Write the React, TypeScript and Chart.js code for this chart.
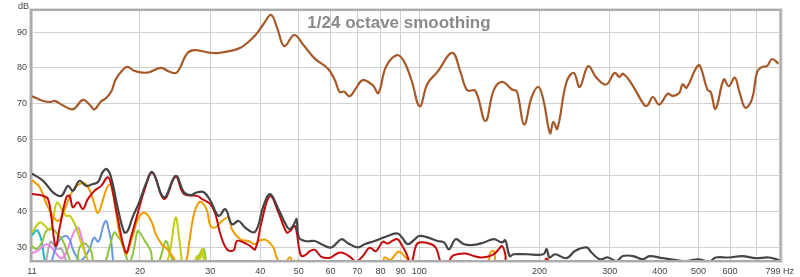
import React, { useEffect, useRef } from "react";
import { Chart, registerables } from "chart.js";

Chart.register(...registerables);

// ---- axis definition ----
const X_MIN = 10.74;
const X_MAX = 799;
const Y_MIN = 26.4;
const Y_MAX = 95.9;
const X_GRID = [20, 30, 40, 50, 60, 70, 80, 90, 100, 200, 300, 400, 500, 600, 700];
const X_LABELS: Record<string, string> = {
  "20": "20", "30": "30", "40": "40", "50": "50", "60": "60", "70": "70", "80": "80",
  "90": "90", "100": "100", "200": "200", "300": "300", "400": "400", "500": "500", "600": "600",
};
const FIRST_LABEL = "11";
const LAST_LABEL = "799 Hz";
const Y_TICKS = [30, 40, 50, 60, 70, 80, 90];
const Y_UNIT = "dB";
const TITLE = "1/24 octave smoothing";

// ---- series: [frequency Hz, level dB] ----
const brown: [number, number][] = [
  [10.74, 72.1], [11.45, 70.8], [11.9, 70.5], [12.24, 70.8], [12.81, 69.6], [13.61, 68.5],
  [14.4, 71.1], [14.96, 69.8], [15.39, 68.4], [15.93, 70.5], [16.47, 71.6], [16.97, 73.5],
  [17.36, 76.6], [17.97, 79.0], [18.59, 80.3], [19.36, 79.2], [20.26, 78.7], [21.09, 78.8],
  [22.59, 80.0], [23.66, 79.0], [24.62, 78.6], [25.19, 80.0], [26.23, 84.0], [27.3, 85.0],
  [29.75, 84.3], [31.51, 84.2], [35.32, 85.4], [37.41, 87.3], [38.94, 89.2], [40.76, 92.2],
  [42.6, 94.8], [44.17, 91.0], [45.96, 86.1], [48.68, 89.2], [51.27, 86.5], [54.81, 82.6],
  [59.15, 79.8], [61.58, 76.5], [63.24, 73.3], [64.84, 73.4], [66.97, 72.1], [69.45, 74.3],
  [72.28, 76.6], [76.54, 75.2], [79.07, 73.0], [82.59, 80.3], [87.99, 83.6], [91.78, 81.7],
  [95.73, 76.5], [100.35, 69.3], [104.9, 75.6], [111.1, 78.9], [121.0, 84.2], [126.8, 79.0],
  [131.9, 73.8], [138.3, 73.6], [146.5, 65.2], [153.7, 73.8], [161.2, 76.1], [170.7, 74.0],
  [175.6, 73.5], [183.1, 64.2], [191.3, 71.9], [198.9, 74.7], [204.7, 71.0], [212.6, 61.8],
  [216.7, 64.9], [221.7, 63.0], [233.8, 76.1], [243.8, 78.6], [252.3, 74.7], [264.8, 80.5],
  [277.7, 77.3], [294.0, 75.4], [308.4, 78.6], [317.3, 77.5], [323.6, 78.4], [339.3, 75.8],
  [366.3, 69.6], [373.4, 69.6], [384.3, 71.9], [399.1, 69.8], [418.8, 72.8], [430.9, 72.2],
  [447.6, 73.0], [456.4, 75.4], [467.0, 74.5], [492.5, 79.8], [503.9, 80.7], [526.7, 73.9],
  [536.7, 73.3], [552.1, 68.6], [579.0, 76.8], [595.8, 74.9], [616.7, 77.3], [633.4, 73.3],
  [655.7, 68.9], [681.3, 71.4], [701.2, 78.9], [721.5, 80.3], [742.5, 80.5], [764.0, 82.5],
  [793.3, 81.2],
];

const darkGrey: [number, number][] = [
  [10.74, 50.5], [11.45, 48.5], [12.12, 45.3], [12.72, 44.3], [13.21, 47.1], [13.59, 45.7],
  [14.13, 48.5], [14.68, 47.1], [15.24, 47.6], [15.69, 48.1], [16.14, 50.9], [16.52, 51.8],
  [16.94, 49.5], [17.59, 41.1], [18.28, 34.1], [18.63, 34.5], [19.17, 38.3], [19.92, 42.5],
  [20.7, 47.6], [21.5, 50.9], [22.99, 43.9], [24.58, 49.9], [25.78, 45.3], [26.79, 44.5],
  [27.82, 45.3], [28.91, 45.3], [30.04, 42.9], [31.5, 38.7], [32.73, 40.6], [33.99, 36.4],
  [35.33, 37.3], [36.71, 35.4], [38.87, 34.3], [40.77, 41.5], [42.36, 44.8], [44.42, 40.6],
  [46.59, 35.9], [47.5, 35.0], [48.88, 36.9], [49.33, 37.8], [50.02, 32.7], [51.77, 31.7],
  [54.82, 31.7], [56.93, 30.8], [60.29, 29.9], [63.84, 32.2], [66.34, 31.1], [70.25, 29.9],
  [73.0, 30.8], [77.31, 31.7], [80.29, 32.4], [83.4, 33.1], [88.3, 33.8], [90.9, 32.5],
  [93.55, 30.8], [97.2, 32.0], [100.0, 33.1], [104.9, 32.7], [111.1, 31.7], [115.4, 31.3],
  [118.8, 29.4], [123.4, 32.2], [129.5, 30.8], [137.1, 30.6], [145.2, 31.3], [153.7, 32.2],
  [161.2, 31.3], [164.3, 31.9], [168.5, 27.5], [172.4, 28.0], [186.1, 28.0], [204.7, 28.0],
  [208.6, 29.4], [211.9, 27.1], [218.8, 28.0], [233.8, 26.9], [245.4, 28.9], [262.4, 29.9],
  [270.0, 28.5], [283.1, 26.6], [297.1, 27.1], [311.6, 26.1], [323.6, 27.5], [342.8, 27.5],
  [363.1, 26.6], [377.1, 27.5], [407.1, 26.9], [439.4, 26.4], [465.2, 26.1], [502.2, 26.6],
  [531.8, 25.9], [552.6, 27.1], [596.4, 27.1], [643.8, 27.5], [694.9, 26.9], [750.0, 27.1],
  [799.0, 26.3],
];

const red: [number, number][] = [
  [10.74, 44.8], [11.45, 44.3], [11.78, 43.4], [12.01, 38.3], [12.31, 30.3], [12.6, 35.5],
  [13.09, 43.9], [13.34, 44.3], [13.59, 41.1], [13.99, 42.5], [14.4, 40.6], [14.81, 43.4],
  [15.39, 45.7], [16.0, 47.1], [16.61, 49.5], [16.94, 47.6], [17.59, 38.3], [18.46, 28.5],
  [18.99, 32.7], [19.73, 39.2], [20.5, 45.7], [21.5, 50.7], [22.99, 43.4], [24.58, 49.6],
  [25.78, 44.8], [27.82, 44.3], [28.63, 43.4], [30.04, 42.0], [30.91, 39.2], [31.81, 33.6],
  [33.04, 29.4], [34.33, 29.1], [34.98, 31.7], [36.35, 31.3], [37.78, 30.3], [38.87, 29.4],
  [40.37, 37.3], [42.36, 44.3], [44.42, 39.7], [46.59, 34.1], [47.5, 34.5], [48.88, 35.9],
  [50.02, 29.9], [50.77, 27.5], [52.24, 28.0], [53.27, 28.9], [54.82, 29.2], [56.93, 27.3],
  [59.74, 27.0], [61.5, 27.8], [63.26, 28.5], [65.1, 28.2], [67.6, 27.0], [69.5, 26.0],
  [72.29, 27.5], [75.1, 29.8], [78.0, 28.9], [81.1, 31.5], [83.4, 31.0], [85.9, 31.8],
  [88.3, 32.2], [90.0, 31.0], [92.65, 28.5], [95.4, 25.5], [98.1, 30.3], [100.0, 31.3],
  [105.9, 31.0], [110.0, 29.9], [112.2, 27.1], [114.3, 24.5], [118.0, 25.5], [121.1, 27.5],
  [124.6, 28.0], [130.7, 28.2], [137.1, 27.5], [142.3, 27.1], [147.9, 27.3], [153.7, 28.0],
  [158.2, 29.4], [161.2, 30.3], [164.3, 28.0], [166.5, 23.0], [200.0, 23.0], [208.6, 26.8],
  [218.0, 23.0], [799.0, 23.0],
];

const orange: [number, number][] = [
  [10.74, 48.7], [11.23, 46.7], [11.78, 41.1], [12.47, 37.3], [12.96, 40.5], [13.34, 44.0],
  [13.73, 46.5], [14.13, 47.6], [14.54, 47.8], [14.96, 46.0], [15.39, 42.0], [15.69, 39.5],
  [16.0, 41.5], [16.46, 46.0], [16.84, 47.5], [17.09, 45.5], [17.43, 40.0], [17.76, 34.0],
  [18.28, 29.5], [18.5, 28.0], [19.17, 33.0], [19.73, 37.5], [20.3, 39.5], [20.9, 39.0],
  [21.5, 36.5], [21.92, 33.6], [22.77, 30.5], [23.21, 29.9], [24.11, 27.5], [24.9, 25.5],
  [26.03, 26.0], [26.53, 30.8], [27.3, 39.2], [28.09, 42.5], [28.63, 42.5], [29.46, 40.1],
  [30.04, 35.9], [30.91, 35.5], [32.1, 37.3], [33.36, 38.3], [33.99, 35.0], [35.67, 32.2],
  [37.41, 31.7], [38.87, 30.8], [40.0, 31.9], [41.55, 31.9], [43.17, 29.9], [43.99, 27.1],
  [45.5, 24.5], [47.5, 27.2], [48.5, 25.0], [50.0, 26.3], [51.5, 23.5], [80.0, 23.5],
  [81.86, 27.1], [84.5, 26.3], [88.34, 28.6], [90.03, 28.5], [91.8, 27.5], [93.55, 26.4],
  [95.5, 23.5], [146.0, 23.5], [150.8, 28.5], [153.7, 28.9], [156.0, 25.0], [160.0, 23.5],
  [799.0, 23.5],
];

const yellowGreen: [number, number][] = [
  [10.74, 34.1], [11.23, 36.9], [11.56, 36.0], [11.9, 34.8], [12.12, 37.5], [12.4, 42.4],
  [12.84, 40.0], [13.09, 38.7], [13.34, 38.8], [13.59, 37.5], [13.86, 35.5], [14.13, 32.5],
  [14.4, 30.0], [14.68, 27.5], [15.0, 25.5], [16.0, 23.5], [22.5, 23.5], [23.4, 26.0],
  [23.89, 30.0], [24.58, 38.3], [25.05, 33.0], [25.3, 28.9], [25.8, 24.0], [27.0, 24.0],
  [27.8, 27.5], [28.3, 26.8], [28.63, 29.4], [29.2, 24.0], [30.0, 23.0],
];

const lightGreen: [number, number][] = [
  [10.74, 30.3], [11.0, 29.5], [11.34, 31.0], [11.67, 34.5], [12.12, 35.0], [12.36, 34.0],
  [12.84, 31.7], [13.21, 28.0], [13.5, 25.5], [13.9, 26.0], [14.13, 29.9], [14.54, 31.0],
  [14.9, 30.0], [15.1, 28.9], [15.4, 25.5], [16.2, 25.0], [16.84, 30.5], [17.26, 34.1],
  [17.6, 33.0], [17.94, 31.7], [18.46, 27.5], [18.8, 25.8], [19.2, 28.0], [19.73, 34.5],
  [20.0, 34.0], [20.7, 31.3], [21.3, 28.9], [21.6, 25.5], [22.3, 26.0], [22.77, 28.9],
  [23.21, 31.7], [23.6, 30.0], [24.11, 26.5], [24.6, 24.5], [27.5, 24.0], [28.09, 27.5],
  [28.91, 29.4], [29.4, 24.5], [30.0, 23.0],
];

const blue: [number, number][] = [
  [11.9, 23.0], [12.1, 27.0], [12.36, 30.3], [12.7, 32.5], [13.09, 33.1], [13.35, 32.0],
  [13.59, 29.4], [13.86, 27.5], [14.13, 26.1], [14.5, 27.0], [14.96, 29.4], [15.24, 32.0],
  [15.39, 32.7], [15.69, 31.5], [15.9, 32.5], [16.2, 36.0], [16.46, 37.3], [16.7, 35.0],
  [16.94, 31.7], [17.09, 27.5], [17.26, 24.0], [17.5, 23.0],
];

const pink: [number, number][] = [
  [10.74, 28.3], [11.1, 29.0], [11.67, 30.8], [12.12, 29.4], [12.6, 27.1], [12.84, 27.0],
  [13.2, 29.5], [13.59, 33.5], [13.99, 35.5], [14.26, 33.0], [14.54, 29.0], [14.8, 26.0],
  [15.0, 24.0],
];

const teal: [number, number][] = [
  [10.74, 33.3], [11.02, 34.7], [11.12, 34.5], [11.34, 32.0], [11.45, 29.0], [11.56, 26.0],
  [11.7, 23.0],
];

const lightGrey: [number, number][] = [
  [11.56, 24.0], [11.78, 29.0], [11.95, 31.5], [12.12, 31.0], [12.36, 29.5], [12.72, 29.5],
  [12.96, 27.5], [13.2, 24.0],
];

const SERIES: { data: [number, number][]; color: string; width: number }[] = [
  { data: brown, color: "#a65a2a", width: 2.2 },
  { data: darkGrey, color: "#454545", width: 2.2 },
  { data: red, color: "#c40a0a", width: 2 },
  { data: orange, color: "#f09c00", width: 2 },
  { data: yellowGreen, color: "#c4cc10", width: 2 },
  { data: lightGreen, color: "#8ec43c", width: 2 },
  { data: blue, color: "#6a98e6", width: 2 },
  { data: pink, color: "#ea86ea", width: 2 },
  { data: teal, color: "#1eb6c8", width: 2 },
  { data: lightGrey, color: "#a8a8a8", width: 2 },
];

const FONT = "'Liberation Sans', Arial, sans-serif";

const framePlugin = {
  id: "frame",
  afterDatasetsDraw(chart: any) {
    const { ctx, chartArea } = chart;
    const { left, top, right, bottom } = chartArea;
    ctx.save();
    ctx.strokeStyle = "#dedede";
    ctx.lineWidth = 1;
    ctx.strokeRect(left - 2.5, top - 2.5, right - left + 5, bottom - top + 5);
    ctx.strokeStyle = "#ababab";
    ctx.lineWidth = 2;
    ctx.strokeRect(left - 1, top - 1, right - left + 2, bottom - top + 2);
    ctx.fillStyle = "#8a8a8a";
    ctx.font = `bold 17px ${FONT}`;
    ctx.textAlign = "center";
    ctx.textBaseline = "alphabetic";
    ctx.fillText(TITLE, 399, 28);
    ctx.fillStyle = "#444";
    ctx.font = `9px ${FONT}`;
    ctx.textAlign = "left";
    ctx.fillText(Y_UNIT, 18, 9);
    ctx.restore();
  },
};

export default function App() {
  const ref = useRef<HTMLCanvasElement | null>(null);
  useEffect(() => {
    if (!ref.current) return;
    const chart = new Chart(ref.current, {
      type: "line",
      data: {
        datasets: SERIES.map((s) => ({
          data: s.data.map(([x, y]) => ({ x, y })),
          borderColor: s.color,
          borderWidth: s.width,
          pointRadius: 0,
          fill: false,
          tension: 0.4,
        })),
      },
      options: {
        animation: false,
        responsive: false,
        devicePixelRatio: 1,
        layout: { padding: { left: 0, top: 11, right: 16, bottom: 0 } },
        plugins: { legend: { display: false }, tooltip: { enabled: false }, title: { display: false } },
        scales: {
          x: {
            type: "logarithmic",
            min: X_MIN,
            max: X_MAX,
            afterBuildTicks: (scale: any) => {
              scale.ticks = [X_MIN, ...X_GRID, X_MAX].map((v) => ({ value: v }));
            },
            afterFit: (scale: any) => {
              scale.height = 17;
            },
            ticks: {
              autoSkip: false,
              maxRotation: 0,
              minRotation: 0,
              padding: 6,
              color: "#444",
              font: { family: FONT, size: 9 },
              callback: (value: any) => {
                const v = Number(value);
                if (v === X_MIN) return FIRST_LABEL;
                if (v === X_MAX) return LAST_LABEL;
                return X_LABELS[String(v)] ?? "";
              },
            },
            grid: { color: "#d0d0d0", lineWidth: 1, drawTicks: false },
            border: { display: false },
          },
          y: {
            type: "linear",
            min: Y_MIN,
            max: Y_MAX,
            afterBuildTicks: (scale: any) => {
              scale.ticks = Y_TICKS.map((v) => ({ value: v }));
            },
            afterFit: (scale: any) => {
              scale.width = 32;
            },
            ticks: {
              padding: 5,
              color: "#444",
              font: { family: FONT, size: 9 },
              callback: (value: any) => String(value),
            },
            grid: { color: "#d0d0d0", lineWidth: 1, drawTicks: false },
            border: { display: false },
          },
        },
      },
      plugins: [framePlugin],
    });
    return () => chart.destroy();
  }, []);
  return (
    <div style={{ position: "fixed", left: 0, top: 0, width: 800, height: 277, background: "#fff" }}>
      <canvas ref={ref} width={800} height={277} style={{ display: "block" }} />
    </div>
  );
}
